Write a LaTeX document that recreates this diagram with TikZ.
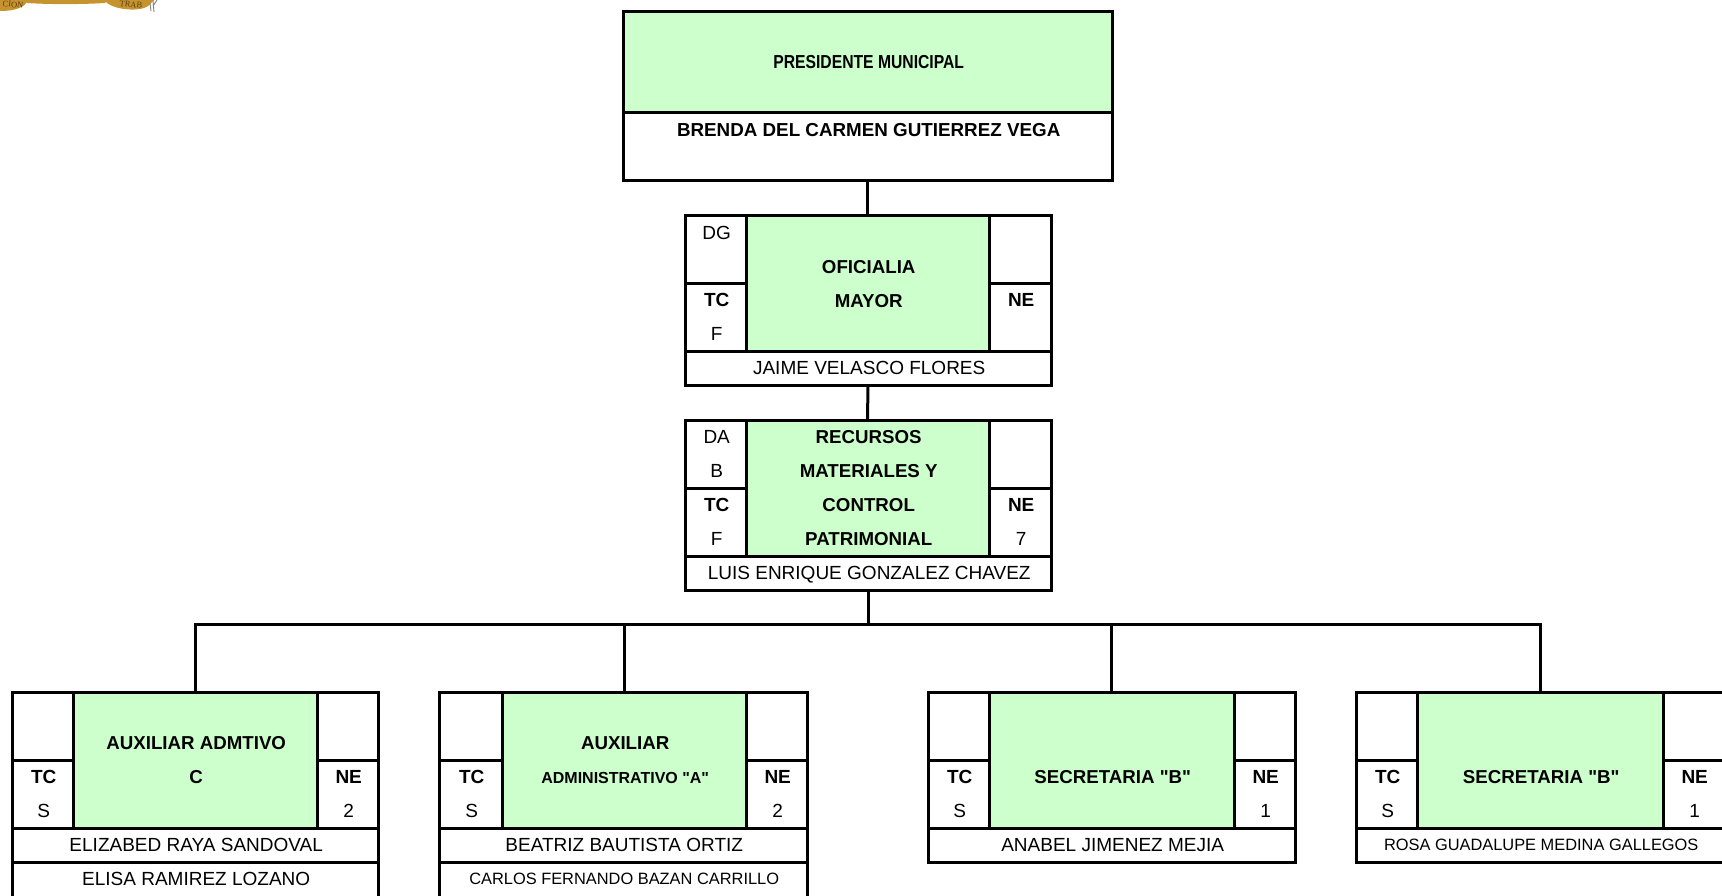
\documentclass[tikz,border=0pt]{standalone}
\usepackage{fontspec}
\newfontfamily\arialf{Liberation Sans}
\newfontfamily\logofont{Liberation Serif}
\definecolor{cellgreen}{HTML}{CCFFCC}
\definecolor{ribbon}{HTML}{C6942F}
\definecolor{ribbontext}{HTML}{5C3C12}
\newcommand\rw{\rule{0pt}{13.4pt}}
\newcommand\smtxt{\fontsize{16.4}{34}\selectfont}
\tikzset{
  cellbox/.style={draw=black,line width=3pt,inner sep=0pt,outer sep=0pt},
  greenbox/.style={cellbox,fill=cellgreen},
  celltext/.style={inner sep=0pt,outer sep=0pt,align=center,text=black,
    font=\arialf\fontsize{19}{34}\selectfont},
  greentext/.style={celltext,font=\arialf\fontsize{18.7}{34}\selectfont\bfseries},
  wire/.style={draw=black,line width=3pt},
  logotext/.style={font=\logofont\fontsize{8.5}{9}\selectfont,text=ribbontext,inner sep=0pt}
}
% \cellat[box style]{name}{x1}{y1}{x2}{y2}{text style}{text}
\newcommand\cellat[8][cellbox]{%
  \node[#1,minimum width={(#5-#3)*1pt},minimum height={(#6-#4)*1pt}] (#2)
    at ({(#3+#5)/2},{(#4+#6)/2}) {};
  \node[#7] (#2-txt) at ([xshift=1.2pt]#2.center) {#8};}
\def\splitfour#1,#2,#3,#4\relax#5{\def\pa{#1}\def\pb{#2}\def\pc{#3}\def\pd{#4}}
% \orgbox{id}{x1,x2,x3,x4}{y1,y2,y3,y4}{UL}{LL}{centre}{UR}{LR}
\newcommand\orgbox[8]{%
  \splitfour#2\relax{}\let\xa\pa\let\xb\pb\let\xc\pc\let\xd\pd
  \splitfour#3\relax{}\let\ya\pa\let\yb\pb\let\yc\pc\let\yd\pd
  \cellat{#1-ul}{\xa}{\ya}{\xb}{\yb}{celltext}{#4}
  \cellat{#1-ll}{\xa}{\yb}{\xb}{\yc}{celltext}{#5}
  \cellat[greenbox]{#1-t}{\xb}{\ya}{\xc}{\yc}{greentext}{#6}
  \cellat{#1-ur}{\xc}{\ya}{\xd}{\yb}{celltext}{#7}
  \cellat{#1-lr}{\xc}{\yb}{\xd}{\yc}{celltext}{#8}}
\begin{document}
\begin{tikzpicture}[x=1pt,y=-1pt]
\useasboundingbox (0,0) rectangle (1722,896);
\clip (0,0) rectangle (1722,896);
% logo remnant
\fill[ribbon] (-1,-3) -- (28,-3) -- (27,2) .. controls (24,7) and (16,11) .. (0,11) -- cycle;
\fill[ribbon] (25,-3) -- (110,-3) -- (105,3) .. controls (80,4.5) and (50,4.5) .. (27,3) -- cycle;
\fill[ribbon] (106,-3) -- (158,-3) -- (152,2) .. controls (149,7) and (142,10) .. (130,9.5) .. controls (119,9) and (110,6) .. (106,2) -- cycle;
\draw[gray,line width=.9pt] (150,3) -- (151,11) (153,1) -- (154,12) (157,0) -- (153,6);
\node[logotext,rotate=-6] (logoa) at (13,4.6) {CION};
\node[logotext,rotate=-6] (logob) at (131,4.6) {TRAB};
% president
\cellat[greenbox]{pres-t}{623}{12}{1112}{113}{greentext}{\scalebox{.835}[1]{\fontsize{18.8}{34}\selectfont PRESIDENTE MUNICIPAL}}
\cellat{pres-n}{623}{113}{1112}{181}{celltext}{\bfseries\fontsize{18.8}{34}\selectfont BRENDA DEL CARMEN GUTIERREZ VEGA\\\rw}
% oficialia
\orgbox{ofi}{685,746,989,1051}{216,283,351,385}{DG\\\rw}{\textbf{TC}\\F}{\rw\\OFICIALIA\\MAYOR\\\rw}{}{\textbf{NE}\\\rw}
\cellat{ofi-n}{685}{351}{1051}{385}{celltext}{JAIME VELASCO FLORES}
% recursos
\orgbox{rec}{685,746,989,1051}{420,488,556,590}{DA\\B}{\textbf{TC}\\F}{RECURSOS\\MATERIALES Y\\CONTROL\\PATRIMONIAL}{}{\textbf{NE}\\7}
\cellat{rec-n}{685}{556}{1051}{590}{celltext,text depth=0pt}{LUIS ENRIQUE GONZALEZ CHAVEZ}
% bottom row
\orgbox{aa}{12,73,317,378}{692,760,828,862}{}{\textbf{TC}\\S}{\rw\\AUXILIAR ADMTIVO\\C\\\rw}{}{\textbf{NE}\\2}
\cellat{aa-n}{12}{828}{378}{862}{celltext}{ELIZABED RAYA SANDOVAL}
\cellat{aa-m}{12}{862}{378}{930}{celltext}{ELISA RAMIREZ LOZANO\\\rw}
\orgbox{bb}{439,502,746,807}{692,760,828,862}{}{\textbf{TC}\\S}{\rw\\AUXILIAR\\{\fontsize{16}{34}\selectfont ADMINISTRATIVO "A"}\\\rw}{}{\textbf{NE}\\2}
\cellat{bb-n}{439}{828}{807}{862}{celltext}{BEATRIZ BAUTISTA ORTIZ}
\cellat{bb-m}{439}{862}{807}{930}{celltext}{{\smtxt CARLOS FERNANDO BAZAN CARRILLO}\\\rw}
\orgbox{cc}{928,989,1234,1295}{692,760,828,862}{}{\textbf{TC}\\S}{\rw\\\rw\\SECRETARIA "B"\\\rw}{}{\textbf{NE}\\1}
\cellat{cc-n}{928}{828}{1295}{862}{celltext}{ANABEL JIMENEZ MEJIA}
\orgbox{dd}{1356,1417,1663,1724}{692,760,828,862}{}{\textbf{TC}\\S}{\rw\\\rw\\SECRETARIA "B"\\\rw}{}{\textbf{NE}\\1}
\cellat{dd-n}{1356}{828}{1724}{862}{celltext}{{\smtxt ROSA GUADALUPE MEDINA GALLEGOS}}
% connectors
\coordinate (bus) at (868,624.5);
\draw[wire] (pres-n.south) -- (ofi-t.north);
\draw[wire] (ofi-n.south) -- (rec-t.north);
\draw[wire] (rec-n.south) -- (bus);
\draw[wire] (aa-t.north) |- (bus);
\draw[wire] (bb-t.north) |- (bus);
\draw[wire] (cc-t.north) |- (bus);
\draw[wire] (dd-t.north) |- (bus);
\end{tikzpicture}
\end{document}
